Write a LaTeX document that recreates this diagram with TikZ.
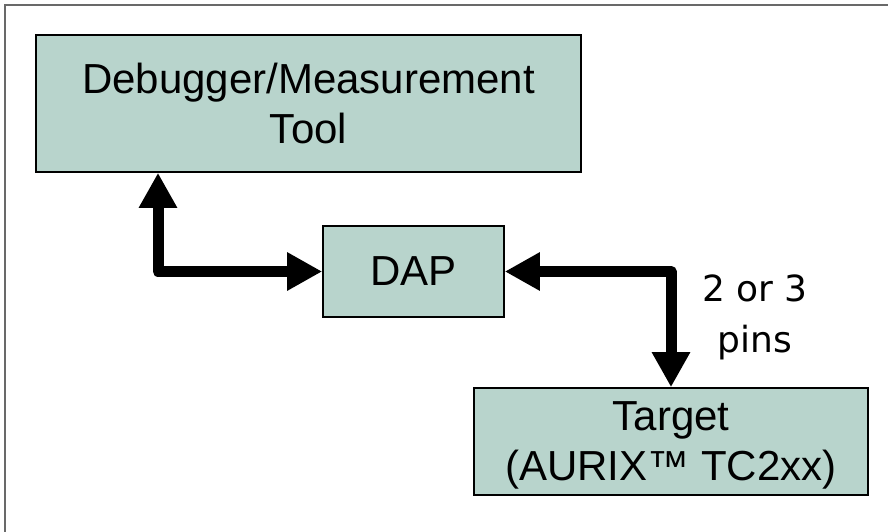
\documentclass[tikz,border=0pt]{standalone}
\usepackage{fontspec}
\setmainfont{Liberation Sans}
\newfontfamily\pinfont{DejaVu Sans}
\usetikzlibrary{arrows.meta}
\definecolor{boxfill}{RGB}{184,212,204}
\definecolor{framegray}{RGB}{105,105,105}
\begin{document}
\begin{tikzpicture}[x=1pt, y=-1pt,
    box/.style={draw=black, line width=1.6pt, fill=boxfill, inner sep=0pt, align=center,
        font=\fontsize{42}{50}\selectfont},
    link/.style={line width=11pt, line join=round, {Triangle[width=36pt,length=35pt]}-{Triangle[width=36pt,length=35pt]}}]
    \useasboundingbox (0,0) rectangle (888,532);
    \draw[framegray, line width=1.5pt] (5,540) -- (5,5) -- (900,5);
    \node[box, minimum width=545pt, minimum height=137pt] (tool) at (308.5,103.5)
        {Debugger/Measurement\\Tool};
    \node[box, minimum width=181pt, minimum height=91pt] (dap) at (413.5,271.5) {DAP};
    \node[box, minimum width=394pt, minimum height=107pt, text depth=0pt] (target) at (671,441.5)
        {Target\\ (AURIX™ TC2xx)};
    \node[align=center, font=\pinfont\fontsize{36}{51}\selectfont] (pins) at (755,317) {2 or 3\\pins};
    \coordinate (bend) at (158,271.5);
    \draw[link] (tool.south -| bend) -- (bend) -- (dap.west);
    \draw[link] (dap.east) -| (target.north);
\end{tikzpicture}
\end{document}
